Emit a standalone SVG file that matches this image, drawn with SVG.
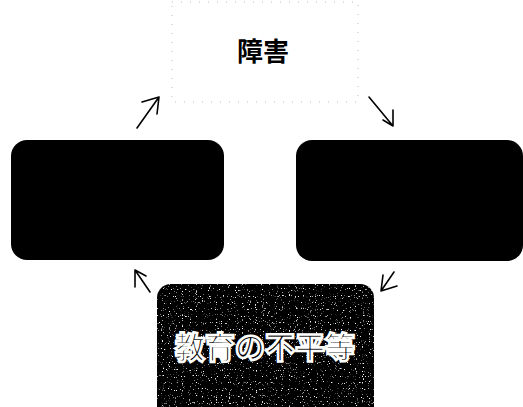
<svg xmlns="http://www.w3.org/2000/svg" width="523" height="407" viewBox="0 0 523 407">
  <style>
    .box { fill: #000; }
    .arrow { fill: none; stroke: #000; stroke-width: 1.6; stroke-linecap: round; stroke-linejoin: round; }
    .label { font-family: "Noto Sans CJK JP", "Noto Sans CJK SC", sans-serif; font-weight: bold; text-anchor: middle; }
  </style>
  <defs>
    <filter id="speckle" x="0" y="0" width="100%" height="100%">
      <feTurbulence type="fractalNoise" baseFrequency="0.85" numOctaves="1" seed="3" result="n"/>
      <feColorMatrix in="n" type="matrix" values="0 0 0 0 1  0 0 0 0 1  0 0 0 0 1  9 0 0 0 -5.7" result="s"/>
    </filter>
    <clipPath id="bclip"><rect x="157" y="284" width="217" height="140" rx="14"/></clipPath>
  </defs>
  <rect width="523" height="407" fill="#fff"/>

  <g id="node-top">
    <rect x="172" y="2" width="186" height="100" fill="none" stroke="#bbb" stroke-width="1" stroke-dasharray="1 8"/>
    <text class="label" x="263" y="61" font-size="26" fill="#000">障害</text>
  </g>

  <g id="node-left">
    <rect class="box" x="11" y="140" width="213" height="120" rx="16"/>
  </g>

  <g id="node-right">
    <rect class="box" x="296" y="140" width="227" height="121" rx="16"/>
  </g>

  <g id="node-bottom">
    <rect class="box" x="157" y="284" width="217" height="140" rx="14" fill="#050505"/>
    <rect x="157" y="284" width="217" height="140" clip-path="url(#bclip)" filter="url(#speckle)"/>
    <text class="label" x="265" y="358" font-size="30" fill="#000" stroke="#fff" stroke-width="2.6">教育の不平等</text>
  </g>

  <g id="connectors">
    <path class="arrow" d="M137 128 L159 97 M142 102 L159 97 L157 114"/>
    <path class="arrow" d="M369 97 L393 126 M393 110 L393 126 L383 120"/>
    <path class="arrow" d="M394 272 L381 291 M383 275 L381 291 L397 286"/>
    <path class="arrow" d="M150 292 L135 270 M135 287 L135 270 L146 276"/>
  </g>
</svg>
